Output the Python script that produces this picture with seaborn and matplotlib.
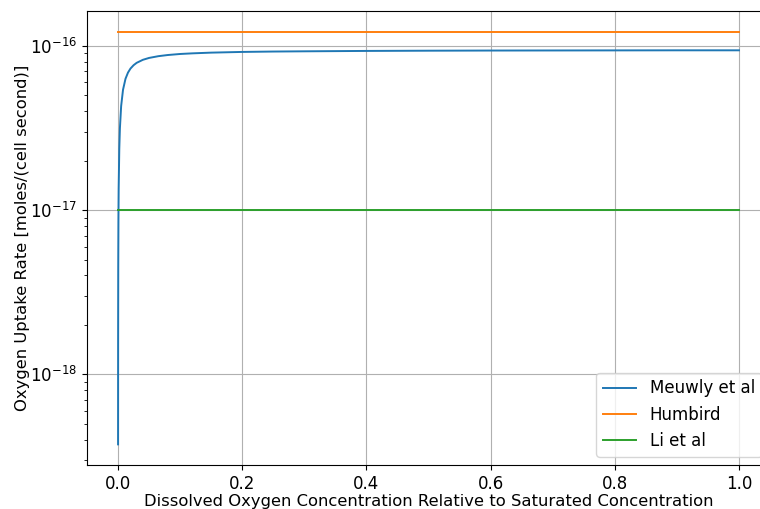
import matplotlib
matplotlib.use("Agg")
import matplotlib.pyplot as plt
import seaborn as sns
import pandas as pd

# Meuwly et al curve
meuwly_x = [0.000024, 0.0001, 0.0003, 0.0006, 0.001, 0.002, 0.003, 0.005, 0.008,
            0.012, 0.016, 0.02, 0.025, 0.03, 0.04, 0.05, 0.065, 0.08, 0.1, 0.12,
            0.15, 0.2, 0.25, 0.3, 0.4, 0.5, 0.6, 0.7, 0.8, 0.9, 1.0]
meuwly_y = [3.75e-19, 1.55e-18, 4.50e-18, 8.59e-18, 1.35e-17, 2.36e-17, 3.15e-17,
            4.30e-17, 5.40e-17, 6.30e-17, 6.87e-17, 7.27e-17, 7.62e-17, 7.88e-17,
            8.22e-17, 8.44e-17, 8.65e-17, 8.79e-17, 8.92e-17, 9.00e-17, 9.09e-17,
            9.18e-17, 9.23e-17, 9.26e-17, 9.31e-17, 9.34e-17, 9.36e-17, 9.37e-17,
            9.38e-17, 9.39e-17, 9.39e-17]

humbird_x = [0.0, 1.0]
humbird_y = [1.22e-16, 1.22e-16]

li_x = [0.0, 1.0]
li_y = [1.0e-17, 1.0e-17]

labels = ["Meuwly et al", "Humbird", "Li et al"]

fig = plt.figure(figsize=(7.6, 5.09), dpi=100)
ax = fig.add_axes([87 / 760, 44 / 509, 683 / 760, 454 / 509])

for xs, ys, lab, col in [(meuwly_x, meuwly_y, labels[0], "C0"),
                         (humbird_x, humbird_y, labels[1], "C1"),
                         (li_x, li_y, labels[2], "C2")]:
    df = pd.DataFrame({"x": xs, "y": ys})
    sns.lineplot(data=df, x="x", y="y", ax=ax, label=lab, color=col,
                 estimator=None, sort=False, linewidth=1.4)

ax.set_yscale("log")
ax.grid(True, which="major")
ax.tick_params(labelsize=12)
ax.set_xlabel("Dissolved Oxygen Concentration Relative to Saturated Concentration",
              fontsize=11.8, labelpad=1)
ax.set_ylabel("Oxygen Uptake Rate [moles/(cell second)]", fontsize=11.8, labelpad=0)
ax.legend(loc="lower right", fontsize=12)

fig.savefig("out.png", dpi=100)
